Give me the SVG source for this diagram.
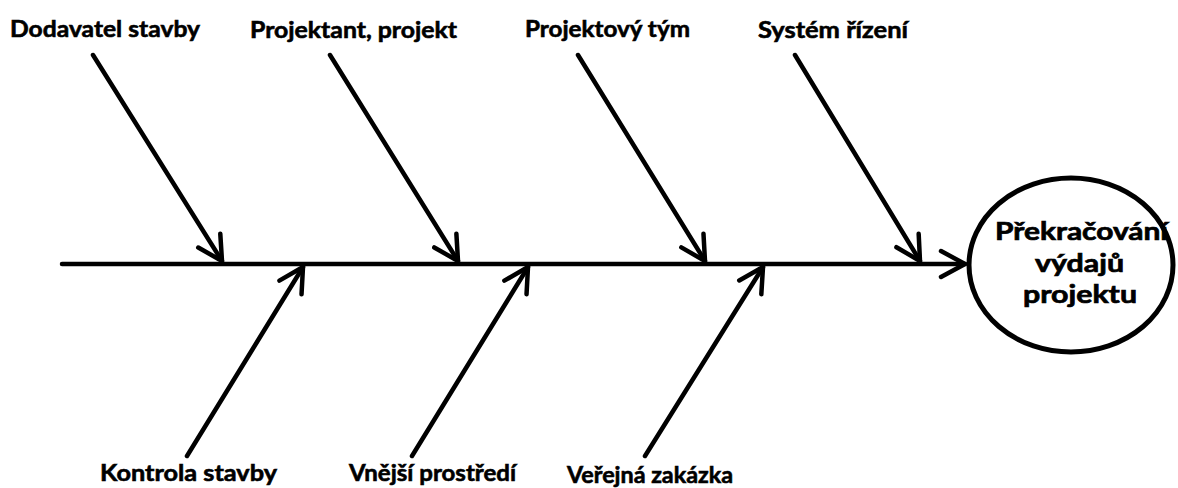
<svg xmlns="http://www.w3.org/2000/svg" width="1178" height="488" viewBox="0 0 1178 488">
<style>
.ln{stroke:#000;stroke-width:4.5;fill:none;stroke-linecap:round}
.lb{font-family:Lato,"Open Sans","Liberation Sans",sans-serif;font-weight:700;font-size:23px;fill:#000;stroke:#000;stroke-width:0.6}
.ct{font-family:Lato,"Open Sans","Liberation Sans",sans-serif;font-weight:700;font-size:25px;fill:#000;stroke:#000;stroke-width:0.7;text-anchor:middle}
</style>
<defs>
<marker id="ah" markerUnits="userSpaceOnUse" markerWidth="40" markerHeight="40" viewBox="-30 -20 40 40" refX="0" refY="0" orient="auto" overflow="visible">
<path d="M-24,-13 L0,0 L-24,13" fill="none" stroke="#000" stroke-width="4.5" stroke-linecap="round" stroke-linejoin="round"/>
</marker>
</defs>
<g id="connectors">
<line class="ln" x1="62" y1="264" x2="965" y2="264" marker-end="url(#ah)"/>
<line class="ln" x1="93" y1="55" x2="222" y2="261" marker-end="url(#ah)"/>
<line class="ln" x1="330" y1="55" x2="458" y2="261" marker-end="url(#ah)"/>
<line class="ln" x1="578" y1="55" x2="705" y2="261" marker-end="url(#ah)"/>
<line class="ln" x1="795" y1="55" x2="920" y2="261" marker-end="url(#ah)"/>
<line class="ln" x1="187" y1="456" x2="303" y2="267" marker-end="url(#ah)"/>
<line class="ln" x1="412" y1="456" x2="528" y2="267" marker-end="url(#ah)"/>
<line class="ln" x1="645" y1="456" x2="763" y2="267" marker-end="url(#ah)"/>
</g>
<g id="effect">
<ellipse cx="1071" cy="265" rx="102" ry="87" fill="#fff" stroke="#000" stroke-width="5"/>
<text class="ct" x="1081.5" y="240" textLength="173" lengthAdjust="spacingAndGlyphs">Překračování</text>
<text class="ct" x="1079.5" y="272" textLength="89" lengthAdjust="spacingAndGlyphs">výdajů</text>
<text class="ct" x="1080" y="303" textLength="114" lengthAdjust="spacingAndGlyphs">projektu</text>
</g>
<g id="cause1"><text class="lb" x="10" y="37" textLength="190" lengthAdjust="spacingAndGlyphs">Dodavatel stavby</text></g>
<g id="cause2"><text class="lb" x="250" y="38" textLength="207" lengthAdjust="spacingAndGlyphs">Projektant, projekt</text></g>
<g id="cause3"><text class="lb" x="525" y="36.5" textLength="165" lengthAdjust="spacingAndGlyphs">Projektový tým</text></g>
<g id="cause4"><text class="lb" x="758" y="37.5" textLength="150" lengthAdjust="spacingAndGlyphs">Systém řízení</text></g>
<g id="cause5"><text class="lb" x="100" y="481" textLength="177" lengthAdjust="spacingAndGlyphs">Kontrola stavby</text></g>
<g id="cause6"><text class="lb" x="349" y="481" textLength="167" lengthAdjust="spacingAndGlyphs">Vnější prostředí</text></g>
<g id="cause7"><text class="lb" x="567" y="482.5" textLength="166" lengthAdjust="spacingAndGlyphs">Veřejná zakázka</text></g>
</svg>
